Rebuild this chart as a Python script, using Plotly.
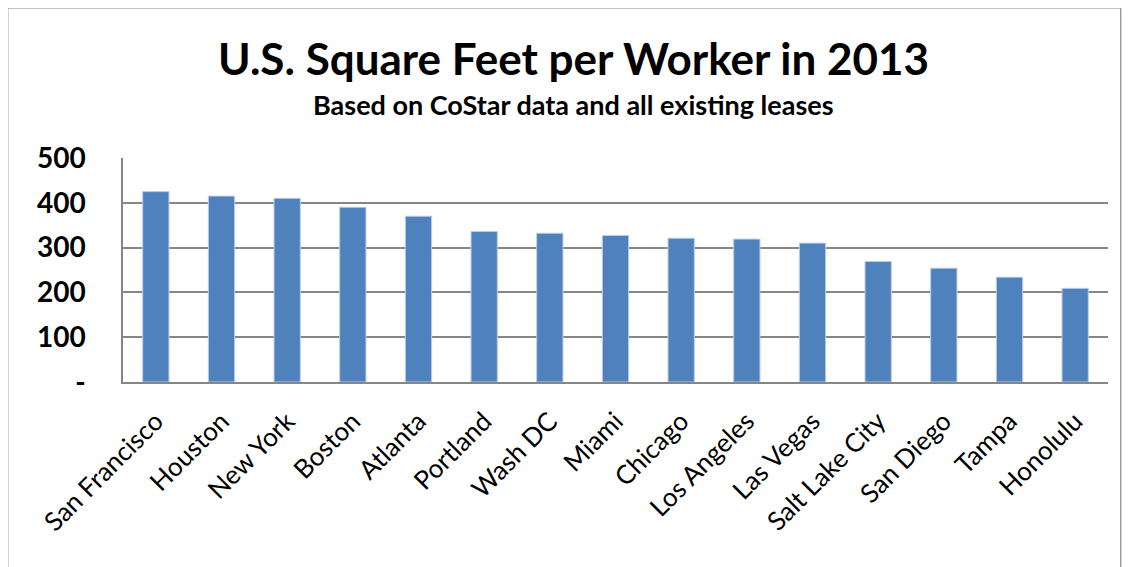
import plotly.graph_objects as go

cities = ['San Francisco', 'Houston', 'New York', 'Boston', 'Atlanta', 'Portland',
          'Wash DC', 'Miami', 'Chicago', 'Los Angeles', 'Las Vegas', 'Salt Lake City',
          'San Diego', 'Tampa', 'Honolulu']
sqft_per_worker = [425, 415, 410, 390, 370, 336, 332, 327, 321, 319, 310, 269, 254, 234, 209]

y_ticks = [0, 100, 200, 300, 400, 500]
y_tick_text = ['-', '100', '200', '300', '400', '500']

fnt = 'Lato, Open Sans, sans-serif'

fig = go.Figure()
fig.add_trace(go.Bar(
    x=cities, y=sqft_per_worker,
    marker=dict(color='#4F81BD', line=dict(color='#B9CDE5', width=1)),
    width=0.4,
))

# page body adds ~8px offset, so margins are shifted to compensate
fig.update_layout(
    width=1131, height=567,
    margin=dict(l=115, r=31, t=150, b=193),
    paper_bgcolor='white', plot_bgcolor='white',
    showlegend=False,
    font=dict(family=fnt, color='black'),
    annotations=[
        dict(text='<b>U.S. Square Feet per Worker in 2013</b>', xref='paper', yref='paper',
             x=0.457, y=1.445, xanchor='center', yanchor='middle', showarrow=False,
             font=dict(size=44, family=fnt)),
        dict(text='<b>Based on CoStar data and all existing leases</b>', xref='paper', yref='paper',
             x=0.457, y=1.24, xanchor='center', yanchor='middle', showarrow=False,
             font=dict(size=27, family=fnt)),
    ],
    shapes=[
        dict(type='rect', xref='paper', yref='paper', x0=-0.117, x1=1.013, y0=-1.0, y1=1.67,
             line=dict(color='#868686', width=1.2), fillcolor='rgba(0,0,0,0)', layer='below'),
    ],
)

fig.update_yaxes(
    range=[0, 500], tickvals=y_ticks, ticktext=y_tick_text,
    showgrid=True, gridcolor='#868686', gridwidth=1.5,
    showline=True, linecolor='#868686', linewidth=1.5,
    tickfont=dict(size=28, family=fnt, weight='bold'), ticks='', ticklabelstandoff=30,
    zeroline=False,
)
fig.update_xaxes(
    showline=True, linecolor='#868686', linewidth=1.5,
    tickangle=-45, tickfont=dict(size=26, family=fnt), ticks='',
    ticklabelstandoff=12, showgrid=False,
)

fig.write_html("out.html")
